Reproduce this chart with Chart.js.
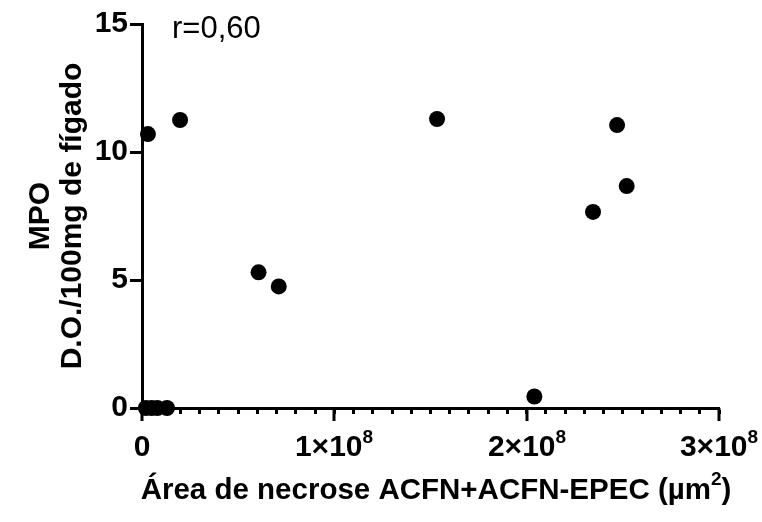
<!DOCTYPE html>
<html>
<head>
<meta charset="utf-8">
<script src="https://cdn.jsdelivr.net/npm/chart.js@4/dist/chart.umd.min.js"></script>
<style>
  html, body { margin: 0; padding: 0; background: #fff; }
</style>
</head>
<body>
<canvas id="myChart" width="762" height="522"></canvas>
<script>
  // data
  var areaX = [2.0e6, 3.1e6, 5.0e6, 8.0e6, 1.3e7, 1.98e7, 6.06e7, 7.11e7, 1.534e8, 2.04e8, 2.345e8, 2.47e8, 2.52e8];
  var mpoY = [0, 10.7, 0, 0, 0, 11.25, 5.3, 4.75, 11.29, 0.45, 7.66, 11.05, 8.67];
  var xTickBase = ['0', '1×10', '2×10', '3×10'];
  var xTickExp = ['', '8', '8', '8'];
  var yTickLabels = ['0', '5', '10', '15'];
  var yTitle = ['MPO', 'D.O./100mg de fígado'];
  var xTitle = 'Área de necrose ACFN+ACFN-EPEC (µm';
  var rText = 'r=0,60';

  var FONT = '"Liberation Sans", Arial, sans-serif';

  var points = areaX.map(function (x, i) { return { x: x, y: mpoY[i] }; });

  // longer major ticks on x, x tick labels with exponents, titles
  var extras = {
    id: 'extras',
    beforeDatasetsDraw: function (chart) {
      var c = chart.ctx;
      var xs = chart.scales.x;
      c.save();
      c.strokeStyle = '#000';
      c.lineWidth = 3;
      c.fillStyle = '#000';
      c.textBaseline = 'middle';
      c.textAlign = 'left';
      for (var i = 0; i < xTickBase.length; i++) {
        var px = Math.round(xs.getPixelForValue(i * 1e8));
        c.beginPath();
        c.moveTo(px, xs.top);
        c.lineTo(px, xs.top + 13);
        c.stroke();

        c.font = 'bold 30px ' + FONT;
        var wb = c.measureText(xTickBase[i]).width;
        c.font = 'bold 19px ' + FONT;
        var we = c.measureText(xTickExp[i]).width;
        var lx = px - (wb + we) / 2;
        c.font = 'bold 30px ' + FONT;
        c.fillText(xTickBase[i], lx, xs.top + 40);
        c.font = 'bold 19px ' + FONT;
        c.fillText(xTickExp[i], lx + wb, xs.top + 30);
      }
      c.restore();
    },
    afterDraw: function (chart) {
      var c = chart.ctx;
      var a = chart.chartArea;
      c.save();
      c.fillStyle = '#000';
      c.textBaseline = 'middle';

      // y title
      c.font = 'bold 30px ' + FONT;
      c.textAlign = 'center';
      var cy = (a.top + a.bottom) / 2;
      c.save();
      c.translate(41, cy);
      c.rotate(-Math.PI / 2);
      c.fillText(yTitle[0], 0, 0);
      c.restore();
      c.save();
      c.translate(73, cy);
      c.rotate(-Math.PI / 2);
      c.fillText(yTitle[1], 0, 0);
      c.restore();

      // x title with superscript 2
      c.font = 'bold 29.5px ' + FONT;
      var w1 = c.measureText(xTitle).width;
      c.font = 'bold 19px ' + FONT;
      var w2 = c.measureText('2').width;
      c.font = 'bold 29.5px ' + FONT;
      var w3 = c.measureText(')').width;
      var x0 = 436 - (w1 + w2 + w3) / 2;
      var ty = 491;
      c.textAlign = 'left';
      c.fillText(xTitle, x0, ty);
      c.font = 'bold 19px ' + FONT;
      c.fillText('2', x0 + w1, ty - 11);
      c.font = 'bold 29.5px ' + FONT;
      c.fillText(')', x0 + w1 + w2, ty);

      // r value
      c.font = '31px ' + FONT;
      c.fillText(rText, 172, 29);
      c.restore();
    }
  };

  var myChart = document.getElementById('myChart');
  var scatterChart = new Chart(myChart, {
    type: 'scatter',
    data: {
      datasets: [{
        data: points,
        backgroundColor: '#000',
        borderColor: '#000',
        pointRadius: 8,
        pointHoverRadius: 8,
        borderWidth: 0,
        clip: false
      }]
    },
    options: {
      responsive: false,
      animation: false,
      devicePixelRatio: 1,
      layout: { padding: { top: 24, right: 43, left: 0, bottom: 0 } },
      plugins: {
        legend: { display: false },
        tooltip: { enabled: false }
      },
      scales: {
        x: {
          type: 'linear',
          min: 0,
          max: 3e8,
          afterFit: function (s) { s.height = 114; s.paddingLeft = 0; s.paddingRight = 0; },
          border: { display: true, color: '#000', width: 3 },
          grid: { drawOnChartArea: false, drawTicks: true, tickLength: 6, tickWidth: 3, tickColor: '#000' },
          ticks: {
            stepSize: 1e7,
            autoSkip: false,
            maxRotation: 0,
            display: false
          }
        },
        y: {
          min: 0,
          max: 15,
          afterFit: function (s) { s.width = 142; s.paddingTop = 0; s.paddingBottom = 0; },
          border: { display: true, color: '#000', width: 3 },
          grid: { drawOnChartArea: false, drawTicks: true, tickLength: 12, tickWidth: 3, tickColor: '#000' },
          ticks: {
            stepSize: 5,
            padding: 2,
            color: '#000',
            font: { family: FONT, size: 30, weight: 'bold' },
            callback: function (v) { return yTickLabels[Math.round(v / 5)]; }
          }
        }
      }
    },
    plugins: [extras]
  });
</script>
</body>
</html>
